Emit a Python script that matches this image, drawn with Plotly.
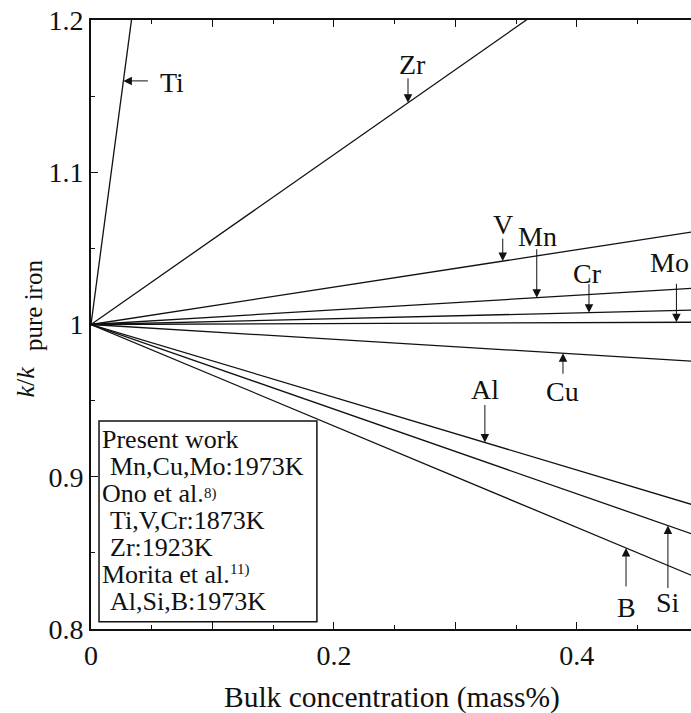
import plotly.graph_objects as go

# Bulk concentration (mass%) at the two ends of each fitted line
conc = [0.0, 0.5]

# k/k_pure iron at the ends of each line (all start from pure iron, 1.0)
elements = ["Ti", "Zr", "V", "Mn", "Cr", "Mo", "Cu", "Al", "Si", "B"]
ratio_start = [1.0] * 10
ratio_end = [4.0, 1.279, 1.0614, 1.024, 1.0095, 1.0015, 0.9757, 0.8805, 0.861, 0.8334]

# ticks
y_tickvals = [0.8, 0.9, 1.0, 1.1, 1.2]
y_ticktext = ["0.8", "0.9", "1", "1.1", "1.2"]
x_tickvals = [0.0, 0.1, 0.2, 0.3, 0.4]
x_ticktext = ["0", "", "0.2", "", "0.4"]

# Label text position (data units) and arrow: tip x on the line, tail offset in px
labels = {
    "Ti": dict(tx=0.0665, ty=1.159, tip_y=1.16, ax=26, ay=0),
    "Zr": dict(tx=0.265, ty=1.1705, tip_x=0.261, ax=0, ay=-26),
    "V":  dict(tx=0.339, ty=1.066, tip_x=0.339, ax=0, ay=-24),
    "Mn": dict(tx=0.368, ty=1.0575, tip_x=0.367, ax=0, ay=-50),
    "Cr": dict(tx=0.409, ty=1.0338, tip_x=0.41, ax=0, ay=-30),
    "Mo": dict(tx=0.4765, ty=1.041, tip_x=0.482, ax=0, ay=-40),
    "Cu": dict(tx=0.3886, ty=0.9563, tip_x=0.3886, ax=0, ay=22),
    "Al": dict(tx=0.3243, ty=0.957, tip_x=0.3243, ax=0, ay=-39),
    "Si": dict(tx=0.475, ty=0.8177, tip_x=0.475, ax=0, ay=64),
    "B":  dict(tx=0.4405, ty=0.8144, tip_x=0.4405, ax=0, ay=40),
}

# Data-source box: text, indent
legend_lines = [
    ("Present work", 0),
    ("Mn,Cu,Mo:1973K", 1),
    ("Ono et al.", 0),
    ("Ti,V,Cr:1873K", 1),
    ("Zr:1923K", 1),
    ("Morita et al.", 0),
    ("Al,Si,B:1973K", 1),
]
# reference marks after the author names: text, left x, y
legend_refs = [
    ("8)", 0.0912, 0.8888),
    ("11)", 0.1127, 0.8388),
]

FONT = "Liberation Serif, Times New Roman, Times, serif"
INK = "#111111"

fig = go.Figure()
for name, y0, y1 in zip(elements, ratio_start, ratio_end):
    fig.add_trace(go.Scatter(
        x=conc, y=[y0, y1], mode="lines", name=name,
        line=dict(color=INK, width=1.3), showlegend=False,
        hoverinfo="skip",
    ))

slope = {n: (y1 - y0) / (conc[1] - conc[0]) for n, y0, y1 in zip(elements, ratio_start, ratio_end)}

annotations = []
for name, d in labels.items():
    if "tip_x" in d:
        tip_x = d["tip_x"]
        tip_y = ratio_start[0] + slope[name] * tip_x
    else:
        tip_y = d["tip_y"]
        tip_x = (tip_y - ratio_start[0]) / slope[name]
    # arrow onto the line
    annotations.append(dict(
        x=tip_x, y=tip_y, xref="x", yref="y", text="", showarrow=True,
        ax=d["ax"], ay=d["ay"], axref="pixel", ayref="pixel",
        arrowhead=2, arrowsize=1.7, arrowwidth=1.0, arrowcolor=INK,
        standoff=0,
    ))
    # element name
    annotations.append(dict(
        x=d["tx"], y=d["ty"], xref="x", yref="y", text=name, showarrow=False,
        xanchor="center", yanchor="middle",
        font=dict(family=FONT, size=28, color=INK),
    ))

# rows of the data-source box, 27 px apart
row_top = 0.9244
row_step = 27 / 1522.5
for i, (txt, indent) in enumerate(legend_lines):
    annotations.append(dict(
        x=0.0076 + 0.0068 * indent, y=row_top - i * row_step, xref="x", yref="y",
        text=txt, showarrow=False, xanchor="left", yanchor="middle",
        font=dict(family=FONT, size=26, color=INK),
    ))
for txt, rx, ry in legend_refs:
    annotations.append(dict(
        x=rx, y=ry, xref="x", yref="y", text=txt, showarrow=False,
        xanchor="left", yanchor="middle",
        font=dict(family=FONT, size=15, color=INK),
    ))

# axis titles
annotations.append(dict(
    x=0.502, y=-0.1117, xref="paper", yref="paper",
    text="Bulk concentration (mass%)", showarrow=False,
    xanchor="center", yanchor="middle",
    font=dict(family=FONT, size=29.5, color=INK),
))
annotations.append(dict(
    x=(25.5 - 91) / 600, y=(629 - 382) / 609, xref="paper", yref="paper",
    text="<i>k</i>/<i>k</i>", showarrow=False, textangle=-90,
    xanchor="center", yanchor="middle",
    font=dict(family=FONT, size=26, color=INK),
))
annotations.append(dict(
    x=(33 - 91) / 600, y=(629 - 306) / 609, xref="paper", yref="paper",
    text="pure iron", showarrow=False, textangle=-90,
    xanchor="center", yanchor="middle",
    font=dict(family=FONT, size=25, color=INK),
))

fig.update_layout(
    width=691, height=713,
    margin=dict(l=91, r=0, t=20, b=84),
    plot_bgcolor="white", paper_bgcolor="white",
    font=dict(family=FONT, color=INK),
    annotations=annotations,
    shapes=[dict(
        type="rect", xref="x", yref="y",
        x0=0.0066, x1=0.186, y0=0.8047, y1=0.9366,
        line=dict(color=INK, width=1.5), fillcolor="white", layer="above",
    )],
)

fig.update_xaxes(
    range=[0, 0.494], showgrid=False, zeroline=False,
    showline=True, linecolor=INK, linewidth=1.8, mirror="ticks",
    ticks="inside", ticklen=7, tickwidth=1.2, tickcolor=INK,
    tickvals=x_tickvals, ticktext=x_ticktext,
    tickfont=dict(family=FONT, size=28, color=INK),
    minor=dict(tickvals=[0.05, 0.15, 0.25, 0.35, 0.45], ticks="inside", ticklen=4,
               tickwidth=1.2, tickcolor=INK),
)
fig.update_yaxes(
    range=[0.8, 1.2], showgrid=False, zeroline=False,
    showline=True, linecolor=INK, linewidth=1.8, mirror=False,
    ticks="inside", ticklen=7, tickwidth=1.2, tickcolor=INK,
    tickvals=y_tickvals, ticktext=y_ticktext,
    tickfont=dict(family=FONT, size=28, color=INK),
    minor=dict(tickvals=[0.85, 0.95, 1.05, 1.15], ticks="inside", ticklen=4,
               tickwidth=1.2, tickcolor=INK),
)

fig.write_html("out.html")
